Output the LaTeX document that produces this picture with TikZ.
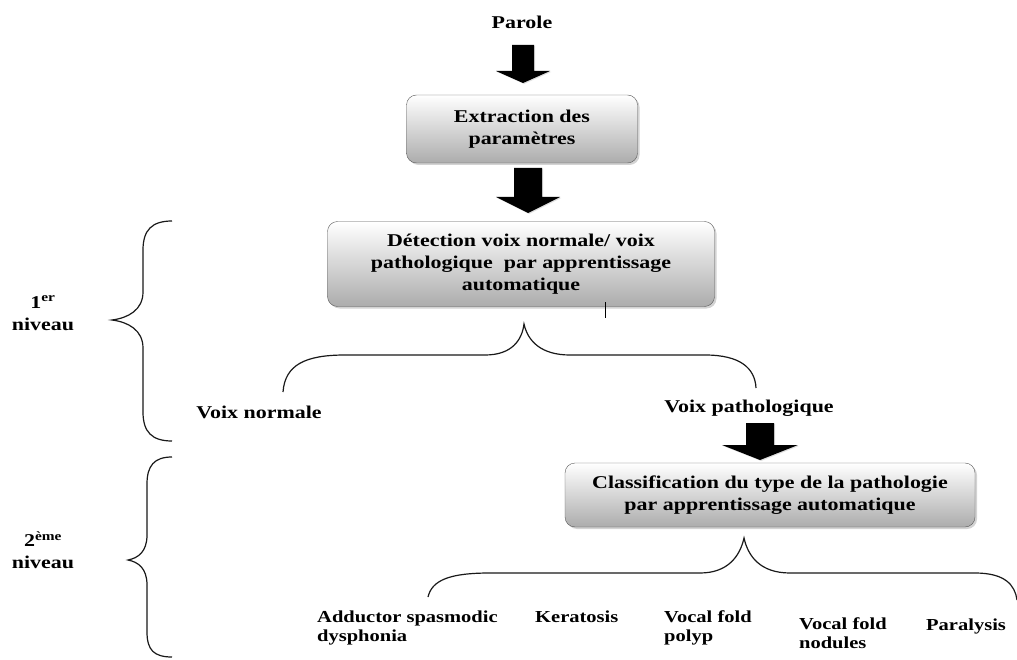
\documentclass[tikz,border=0pt]{standalone}
\usepackage{fontspec}
\setmainfont{Liberation Serif}[FakeStretch=1.22]
\usetikzlibrary{calc, shadows}

% block arrow: top point, tip point, half shaft, half head, head length
\newcommand{\blockarrow}[5]{%
  \fill[fleche] ($(#1)+(-#3,0)$) -- ($(#1)+(#3,0)$) -- ($(#2)+(#3,-#5)$) -- ($(#2)+(#4,-#5)$)
    -- (#2) -- ($(#2)+(-#4,-#5)$) -- ($(#2)+(-#3,-#5)$) -- cycle;}

\begin{document}
\begin{tikzpicture}[x=1pt, y=-1pt,
		every node/.style={font=\fontsize{18}{22}\selectfont\bfseries, inner sep=0pt},
		etape/.style={draw=gray!70!black, rounded corners=10pt, top color=white, bottom color=gray!65,
			drop shadow={shadow xshift=2pt, shadow yshift=-2pt, opacity=0.35}, align=center},
		feuille/.style={font=\fontsize{16.8}{19}\selectfont\bfseries, anchor=west, align=left},
		accolade/.style={line width=1.2pt, gray!20!black},
		fleche/.style={fill=black, drop shadow={shadow xshift=1pt, shadow yshift=-1pt, opacity=0.25}}]
		\useasboundingbox (0,0) rectangle (1017,660);

		\node (parole) at (522,22) {Parole};
		\node[etape, minimum width=231, minimum height=68] (extraction) at (522,129) {Extraction des\\paramètres};
		\node[etape, minimum width=387, minimum height=85] (detection) at (521,264) {Détection voix normale/ voix\\pathologique\ \ par apprentissage\\automatique};
		\node (normale) at (259,412) {Voix normale};
		\node (patho) at (749,408) {Voix pathologique};
		\node[etape, minimum width=410, minimum height=64] (classif) at (770,495) {Classification du type de la pathologie\\par apprentissage automatique};

		\node[align=center] (niv1) at (43,313) {1\textsuperscript{er}\\niveau};
		\node[align=center] (niv2) at (43,550) {2\textsuperscript{ème}\\niveau};

		\node[feuille] (adductor) at (317,628) {Adductor spasmodic\\dysphonia};
		\node[feuille] (keratosis) at (535,617) {Keratosis};
		\node[feuille] (polyp) at (664,628) {Vocal fold\\polyp};
		\node[feuille] (nodules) at (799,633) {Vocal fold\\nodules};
		\node[feuille] (paralysis) at (926,626) {Paralysis};

		\coordinate (f1) at (523,45);  \coordinate (t1) at (523,83);
		\coordinate (f2) at (528,168); \coordinate (t2) at (528,213);
		\coordinate (f3) at (760,423); \coordinate (t3) at (760,460);
		\blockarrow{f1}{t1}{11}{27}{12}
		\blockarrow{f2}{t2}{14}{32}{16}
		\blockarrow{f3}{t3}{14}{38}{15}

		% accolades sous les blocs
		\coordinate (acc1) at (524,324);
		\coordinate (acc2) at (744,538);
		\draw[accolade] (283,392) .. controls (285,365) and (305,355) .. (345,355) -- (485,355)
			.. controls (512,355) and (522,340) .. (acc1)
			.. controls (528,342) and (542,355) .. (570,355) -- (705,355)
			.. controls (740,355) and (755,368) .. (756,388);
		\draw[accolade] (428,597) .. controls (432,580) and (450,573) .. (490,573) -- (700,573)
			.. controls (728,573) and (740,556) .. (acc2)
			.. controls (748,556) and (760,573) .. (790,573) -- (975,573)
			.. controls (1005,573) and (1015,585) .. (1017,600);
		\draw[line width=1pt] (605,302) -- (605,318);

		% accolades des niveaux
		\draw[accolade] (172,221) .. controls (152,221) and (143,230) .. (143,250) -- (143,292)
			.. controls (143,310) and (128,318) .. (112,320)
			.. controls (128,322) and (143,330) .. (143,348) -- (143,412)
			.. controls (143,432) and (152,441) .. (172,441);
		\draw[accolade] (172,457) .. controls (154,457) and (147,466) .. (147,484) -- (147,535)
			.. controls (147,552) and (138,558) .. (128,560)
			.. controls (138,562) and (147,568) .. (147,585) -- (147,632)
			.. controls (147,650) and (154,657) .. (172,657);
\end{tikzpicture}
\end{document}
